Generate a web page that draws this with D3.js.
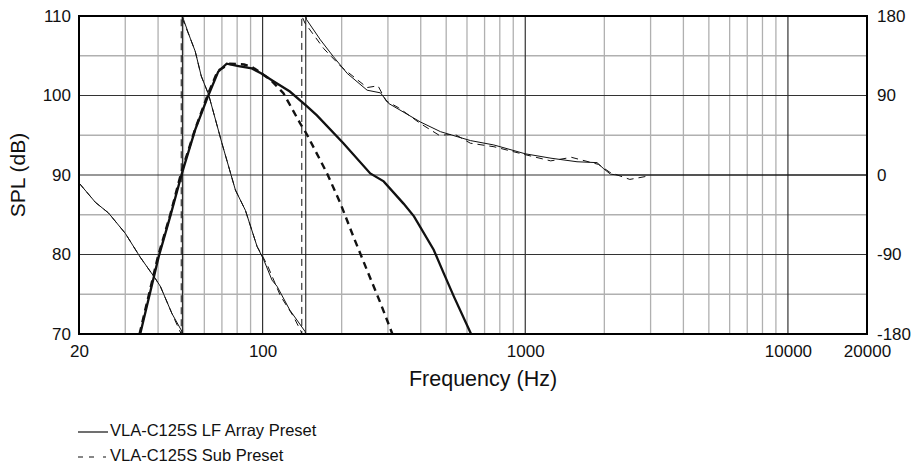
<!DOCTYPE html>
<html>
<head>
<meta charset="utf-8">
<script src="https://cdnjs.cloudflare.com/ajax/libs/d3/7.8.5/d3.min.js"></script>
<style>
    body { margin: 0; background: #fff; }
    text { font-family: "Liberation Sans", Arial, Helvetica, sans-serif; fill: #111; }
</style>
</head>
<body>
<svg id="chart" width="913" height="463"></svg>
<script>
// magnitude, LF Array preset
const lfMagFreq = [34.2, 40.2, 44.5, 49.3, 55.4, 62.3, 67.8, 73, 81, 91, 98.6, 110, 127, 148, 161, 203, 257, 289, 344, 377, 448, 490, 535, 622];
const lfMagDb = [70, 79.7, 84.8, 90.2, 95.7, 100.1, 103.0, 104.0, 103.7, 103.4, 102.8, 101.8, 100.5, 98.6, 97.5, 94.0, 90.2, 89.2, 86.4, 84.8, 80.6, 77.6, 74.7, 70];

// magnitude, Sub preset
const subMagFreq = [34, 40, 44.5, 49, 55.4, 62, 67.5, 75, 85, 91, 98, 107, 120, 139, 148, 176, 198, 222, 250, 281, 312];
const subMagDb = [70, 79.8, 85, 90.3, 95.8, 100.2, 103.1, 104.0, 103.9, 103.6, 102.9, 102.0, 100.3, 96.5, 95.0, 90.2, 86.4, 82.2, 78.0, 73.9, 70];

// phase (deg), LF Array preset
const lfPhaseFreq = [20, 23.1, 25.9, 30, 34.2, 39, 40.8, 45.2, 49.3, 49.5, 49.5, 50, 53, 55.4, 58.4, 62.3, 70, 78.8, 86, 95.3, 101, 108.6, 113.5, 127, 145, 146, 146, 147, 166, 186, 210, 250, 281, 302, 399, 476, 618, 759, 1000, 1253, 1574, 1876, 1990, 2110, 2230, 20000];
const lfPhaseDeg = [-9, -31, -43, -66, -93, -117, -126, -157, -177, -180, 180, 176, 155, 140, 112, 91, 36, -17, -40, -81, -96, -119, -126, -153, -177, -180, 180, 176, 153, 134, 115, 96, 93, 81, 60, 49, 39, 34, 24, 19, 15, 14, 7, 1, 0, 0];

// phase (deg), Sub preset
const subPhaseFreq = [20, 23.1, 25.9, 30, 34.2, 39, 40.8, 45.2, 49, 49, 53, 55.4, 58.4, 62.3, 70, 78.8, 86, 95.3, 100, 104.6, 117, 131, 140, 141, 141, 145, 171, 200, 250, 275, 295, 330, 400, 470, 540, 618, 760, 1000, 1250, 1500, 1900, 2100, 2500, 2960];
const subPhaseDeg = [-9, -31, -43, -66, -93, -117, -126, -157, -180, 180, 155, 140, 112, 91, 36, -17, -40, -81, -92, -103, -137, -160, -177, -180, 180, 172, 143, 122, 99, 101, 84, 76, 58, 45, 46, 36, 32, 23, 16, 20, 12, 3, -5, -1];

const freqTicks = [20, 100, 1000, 10000, 20000];
const splTicks = [70, 80, 90, 100, 110];
const phaseTicks = [-180, -90, 0, 90, 180];
const legendLabels = ["VLA-C125S LF Array Preset", "VLA-C125S Sub Preset"];

const margin = { top: 16, right: 46, bottom: 129, left: 79 };
const W = 913, H = 463;
const width = W - margin.left - margin.right;
const height = H - margin.top - margin.bottom;

const svg = d3.select("#chart");
const g = svg.append("g").attr("transform", `translate(${margin.left},${margin.top})`);

const x = d3.scaleLog().domain([20, 20000]).range([0, width]);
const yDb = d3.scaleLinear().domain([70, 110]).range([height, 0]);
const yPh = d3.scaleLinear().domain([-180, 180]).range([height, 0]);

// grid - minor first, majors on top
const vTicks = x.ticks().filter(d => d > 20 && d < 20000);
const isDecade = d => Math.abs(Math.log10(d) - Math.round(Math.log10(d))) < 1e-9;
const hTicks = yDb.ticks(8).filter(d => d > 70 && d < 110);

g.append("g").selectAll("line")
    .data(vTicks.filter(d => !isDecade(d)))
    .join("line")
    .attr("x1", d => x(d)).attr("x2", d => x(d))
    .attr("y1", 0).attr("y2", height)
    .attr("stroke", "#b0b0b0").attr("stroke-width", 1.3);

g.append("g").selectAll("line")
    .data(hTicks.filter(d => d % 10 !== 0))
    .join("line")
    .attr("x1", 0).attr("x2", width)
    .attr("y1", d => yDb(d)).attr("y2", d => yDb(d))
    .attr("stroke", "#b0b0b0").attr("stroke-width", 1.3);

g.append("g").selectAll("line")
    .data(vTicks.filter(isDecade))
    .join("line")
    .attr("x1", d => x(d)).attr("x2", d => x(d))
    .attr("y1", 0).attr("y2", height)
    .attr("stroke", "#333").attr("stroke-width", 1.2);

g.append("g").selectAll("line")
    .data(hTicks.filter(d => d % 10 === 0))
    .join("line")
    .attr("x1", 0).attr("x2", width)
    .attr("y1", d => yDb(d)).attr("y2", d => yDb(d))
    .attr("stroke", "#333").attr("stroke-width", 1.2);

// curves
const dbLine = d3.line().x(d => x(d[0])).y(d => yDb(d[1]));
const phLine = d3.line().x(d => x(d[0])).y(d => yPh(d[1]));

g.append("path")
    .datum(d3.zip(lfPhaseFreq, lfPhaseDeg))
    .attr("fill", "none").attr("stroke", "#111").attr("stroke-width", 1)
    .attr("d", phLine);

g.append("path")
    .datum(d3.zip(subPhaseFreq, subPhaseDeg))
    .attr("fill", "none").attr("stroke", "#111").attr("stroke-width", 1)
    .attr("stroke-dasharray", "7,5")
    .attr("d", phLine);

g.append("path")
    .datum(d3.zip(subMagFreq, subMagDb))
    .attr("fill", "none").attr("stroke", "#111").attr("stroke-width", 2.4)
    .attr("stroke-dasharray", "7,5")
    .attr("d", dbLine);

g.append("path")
    .datum(d3.zip(lfMagFreq, lfMagDb))
    .attr("fill", "none").attr("stroke", "#111").attr("stroke-width", 2.3)
    .attr("d", dbLine);

// frame
g.append("rect")
    .attr("width", width).attr("height", height)
    .attr("fill", "none").attr("stroke", "#000").attr("stroke-width", 2);

// axes (plain hyphen for negatives, like the original)
const plain = d => String(d);
const leftAxis = g.append("g")
    .call(d3.axisLeft(yDb).tickValues(splTicks).tickFormat(plain).tickSize(0).tickPadding(8));
const bottomAxis = g.append("g")
    .attr("transform", `translate(0,${height})`)
    .call(d3.axisBottom(x).tickValues(freqTicks).tickFormat(plain).tickSize(0).tickPadding(11));
const rightAxis = g.append("g")
    .attr("transform", `translate(${width},0)`)
    .call(d3.axisRight(yPh).tickValues(phaseTicks).tickFormat(plain).tickSize(0).tickPadding(10));

[leftAxis, bottomAxis, rightAxis].forEach(a => {
    a.select(".domain").remove();
    a.selectAll("text").style("font-size", "17px").attr("fill", "#111");
});

// axis titles
svg.append("text")
    .attr("transform", `translate(25,${margin.top + height / 2}) rotate(-90)`)
    .attr("text-anchor", "middle")
    .style("font-size", "21px")
    .text("SPL (dB)");

svg.append("text")
    .attr("x", 483).attr("y", 386)
    .attr("text-anchor", "middle")
    .style("font-size", "21.5px")
    .text("Frequency (Hz)");

// legend
const legend = svg.append("g").attr("transform", "translate(78,0)");
legend.append("line")
    .attr("x1", 0).attr("x2", 30).attr("y1", 432).attr("y2", 432)
    .attr("stroke", "#111").attr("stroke-width", 1.2);
legend.append("line")
    .attr("x1", 0).attr("x2", 29).attr("y1", 457).attr("y2", 457)
    .attr("stroke", "#111").attr("stroke-width", 1.2)
    .attr("stroke-dasharray", "5,6,5,9,3,100");
legend.selectAll("text")
    .data(legendLabels)
    .join("text")
    .attr("x", 32)
    .attr("y", (d, i) => 436 + i * 25)
    .style("font-size", "16.5px")
    .text(d => d);
</script>
</body>
</html>
